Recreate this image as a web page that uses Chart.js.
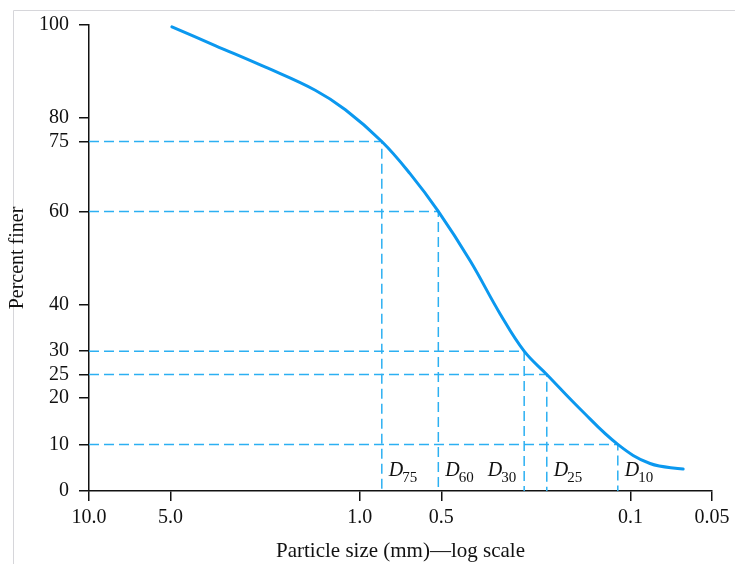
<!DOCTYPE html>
<html>
<head>
<meta charset="utf-8">
<script src="https://cdn.jsdelivr.net/npm/chart.js@4/dist/chart.umd.min.js"></script>
<style>
  html, body { margin: 0; padding: 0; background: #fff; }
  #wrap { width: 735px; height: 564px; }
</style>
</head>
<body>
<div id="wrap"><canvas id="gradation" width="735" height="564"></canvas></div>
<script>
// Grain-size distribution
const particleSizes = [4.94, 3.42, 2.24, 1.46, 1.13, 0.829, 0.652, 0.5126, 0.391, 0.303, 0.247, 0.2038, 0.1535, 0.1114, 0.0847, 0.0639];
const percentFiner  = [99.6, 95.6, 91.0, 86.0, 81.8, 75, 68.1, 60, 49.4, 38.0, 30, 25, 17.6, 10, 5.9, 4.7];

// Characteristic diameters D75, D60, D30, D25, D10
const dPercents = [75, 60, 30, 25, 10];
const dSizes    = [0.829, 0.5126, 0.247, 0.2038, 0.1114];

const xTicks      = [10, 5, 1, 0.5, 0.1, 0.05];
const xTickLabels = ['10.0', '5.0', '1.0', '0.5', '0.1', '0.05'];
const yTicks      = [0, 10, 20, 25, 30, 40, 60, 75, 80, 100];

const SERIF = '"Liberation Serif", "DejaVu Serif", serif';
const CURVE = '#0b98ef';
const GUIDE = '#2cb0f2';
const INK = '#111';

const curve = particleSizes.map((s, i) => ({ x: s, y: percentFiner[i] }));

const guides = dSizes.map((s, i) => ({
  data: [{ x: 10, y: dPercents[i] }, { x: s, y: dPercents[i] }, { x: s, y: 0 }],
  borderColor: GUIDE,
  borderWidth: 1.5,
  borderDash: [10, 5],
  pointRadius: 0,
  tension: 0,
  clip: false
}));

// D labels next to the vertical guides
const dLabelPlugin = {
  id: 'dLabels',
  afterDatasetsDraw(chart) {
    const { ctx, scales: { x, y } } = chart;
    const base = y.getPixelForValue(0) - 15;
    ctx.save();
    ctx.fillStyle = INK;
    ctx.textBaseline = 'alphabetic';
    dSizes.forEach((s, i) => {
      const px = x.getPixelForValue(s);
      const sub = String(dPercents[i]);
      ctx.font = 'italic 20px ' + SERIF;
      const wD = ctx.measureText('D').width;
      ctx.font = '15px ' + SERIF;
      const wSub = ctx.measureText(sub).width;
      // D30 sits to the left of its line
      const left = dPercents[i] === 30 ? px - 7 - wD - wSub : px + 7;
      ctx.font = 'italic 20px ' + SERIF;
      ctx.fillText('D', left, base);
      ctx.font = '15px ' + SERIF;
      ctx.fillText(sub, left + wD - 1, base + 6);
    });
    ctx.restore();
  }
};

// faint frame lines from the scanned page
const framePlugin = {
  id: 'frame',
  beforeDraw(chart) {
    const { ctx, width, height } = chart;
    ctx.save();
    ctx.strokeStyle = '#d6d6da';
    ctx.lineWidth = 1;
    ctx.beginPath();
    ctx.moveTo(13.5, height);
    ctx.lineTo(13.5, 10.5);
    ctx.lineTo(width, 10.5);
    ctx.stroke();
    ctx.restore();
  }
};

new Chart(document.getElementById('gradation'), {
  type: 'line',
  data: {
    datasets: [
      {
        data: curve,
        borderColor: CURVE,
        borderWidth: 3,
        pointRadius: 0,
        tension: 0.4,
        borderCapStyle: 'round'
      },
      ...guides
    ]
  },
  options: {
    responsive: false,
    animation: false,
    layout: { padding: { left: 0, top: 25, right: 23, bottom: 0 } },
    plugins: { legend: { display: false }, tooltip: { enabled: false } },
    scales: {
      x: {
        type: 'logarithmic',
        reverse: true,
        min: 0.05,
        max: 10,
        afterBuildTicks: scale => { scale.ticks = xTicks.map(v => ({ value: v })); },
        afterFit: scale => { scale.height = 73; scale.paddingRight = 0; scale.paddingLeft = 0; },
        grid: { drawOnChartArea: false, drawTicks: true, tickLength: 10, color: INK, lineWidth: 1.5 },
        border: { display: true, color: INK, width: 1.5 },
        ticks: {
          autoSkip: false,
          maxRotation: 0,
          padding: 5,
          color: INK,
          font: { family: SERIF, size: 20 },
          callback: (v, i) => xTickLabels[i]
        },
        title: {
          display: true,
          text: 'Particle size (mm)\u2014log scale',
          color: INK,
          font: { family: SERIF, size: 21 },
          padding: { top: 0, bottom: 0 }
        }
      },
      y: {
        type: 'linear',
        min: 0,
        max: 100,
        afterBuildTicks: scale => { scale.ticks = yTicks.map(v => ({ value: v })); },
        afterFit: scale => { scale.width = 89; },
        grid: { drawOnChartArea: false, drawTicks: true, tickLength: 10, color: INK, lineWidth: 1.5 },
        border: { display: true, color: INK, width: 1.5 },
        ticks: {
          autoSkip: false,
          padding: 10,
          color: INK,
          font: { family: SERIF, size: 20 }
        },
        title: {
          display: true,
          text: 'Percent finer',
          color: INK,
          font: { family: SERIF, size: 20 },
          padding: { top: 6, bottom: 0 }
        }
      }
    }
  },
  plugins: [dLabelPlugin, framePlugin]
});
</script>
</body>
</html>
